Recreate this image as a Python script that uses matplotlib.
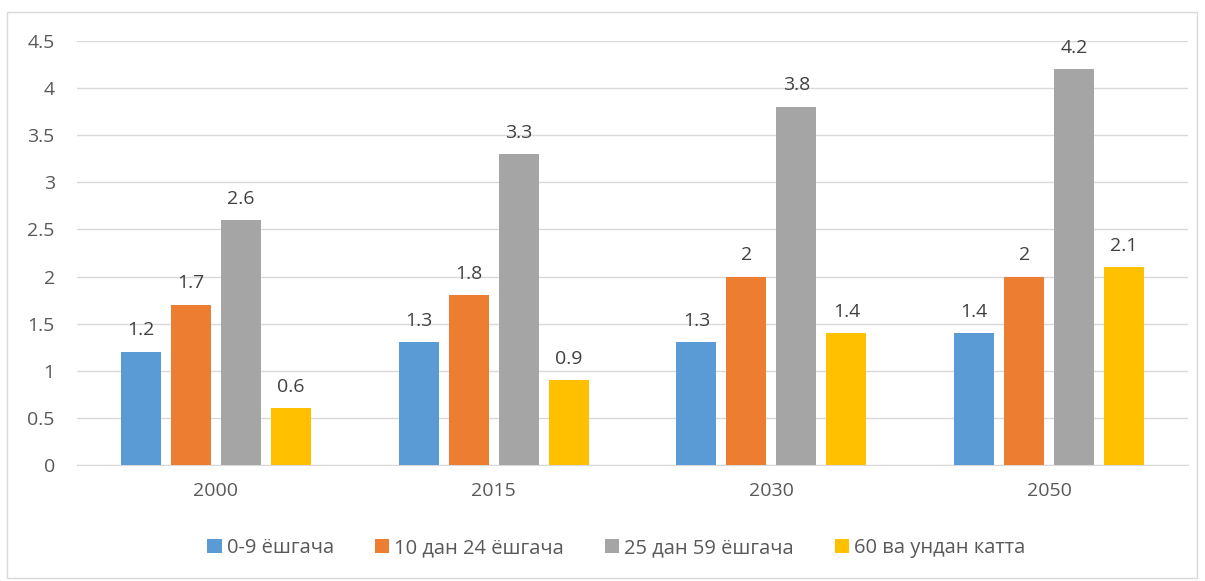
import matplotlib
matplotlib.use("Agg")
import matplotlib.pyplot as plt
import numpy as np
from matplotlib.patches import Rectangle

categories = ["2000", "2015", "2030", "2050"]
series_names = ["0-9 ёшгача", "10 дан 24 ёшгача", "25 дан 59 ёшгача", "60 ва ундан катта"]
s0 = [1.2, 1.3, 1.3, 1.4]
s1 = [1.7, 1.8, 2.0, 2.0]
s2 = [2.6, 3.3, 3.8, 4.2]
s3 = [0.6, 0.9, 1.4, 2.1]
values = [s0, s1, s2, s3]
colors = ["#5B9BD5", "#ED7D31", "#A5A5A5", "#FFC000"]
yticks = [0, 0.5, 1, 1.5, 2, 2.5, 3, 3.5, 4, 4.5]
ytick_labels = ["0", "0.5", "1", "1.5", "2", "2.5", "3", "3.5", "4", "4.5"]

plt.rcParams['font.family'] = ['Open Sans', 'DejaVu Sans']
text_color = "#595959"
fs = 14

fig = plt.figure(figsize=(12.05, 5.81), dpi=100)
ax = fig.add_axes([0.0639, 0.1997, 0.9220, 0.7297])

fig.patches.append(Rectangle((7/1205, 1 - 578/581), 1197/1205 - 7/1205, (578 - 12)/581,
                             transform=fig.transFigure, fill=False, edgecolor="#D9D9D9", linewidth=1))

x = np.arange(len(categories))
width = 0.144
step = 0.18
for i, (vals, c, name) in enumerate(zip(values, colors, series_names)):
    pos = x + (i - 1.5) * step
    bars = ax.bar(pos, vals, width=width, color=c, label=name, zorder=3)
    for b, v in zip(bars, vals):
        ax.annotate(f"{v:g}", (b.get_x() + b.get_width() / 2, v), xytext=(0, 9),
                    textcoords="offset points", ha="center", va="bottom",
                    fontsize=fs, color="#404040")

ax.set_xlim(-0.5, len(categories) - 0.5)
ax.set_ylim(0, 4.5)
ax.set_yticks(yticks)
ax.set_yticklabels(ytick_labels)
ax.set_xticks(x)
ax.set_xticklabels(categories)
ax.tick_params(axis="both", length=0, labelsize=fs, labelcolor=text_color)
ax.tick_params(axis="y", pad=16)
ax.tick_params(axis="x", pad=12)
ax.grid(axis="y", color="#D9D9D9", linewidth=1, zorder=0)
for s in ["top", "right", "left"]:
    ax.spines[s].set_visible(False)
ax.spines["bottom"].set_color("#D9D9D9")
ax.set_axisbelow(True)

fig.legend(loc="center", bbox_to_anchor=(0.5116, 1 - 548/581), ncol=4, frameon=False,
           fontsize=14.5, labelcolor=text_color, handlelength=0.7, handleheight=0.7,
           handletextpad=0.25, columnspacing=2.05)

fig.savefig("out.png", dpi=100)
